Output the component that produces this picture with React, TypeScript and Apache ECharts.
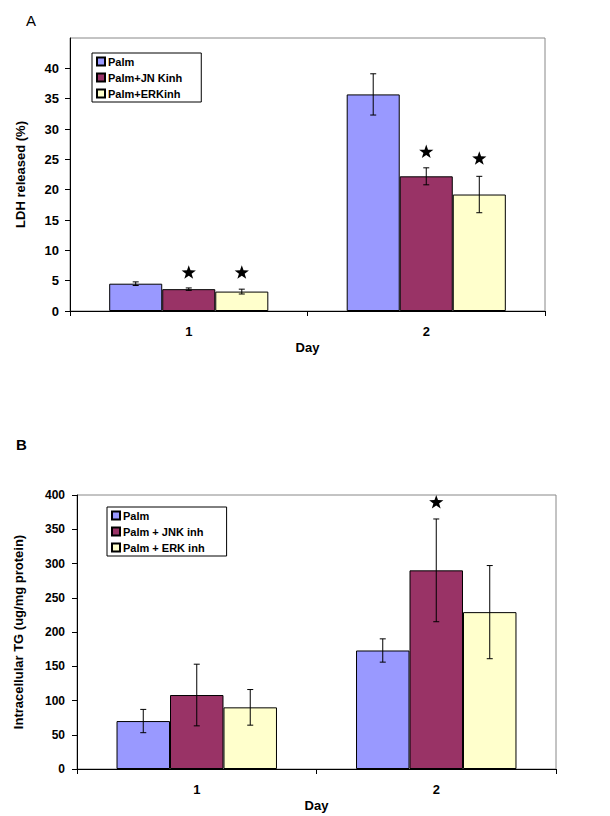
import React, { useEffect, useRef } from "react";
import * as echarts from "echarts";

const days = ["1", "2"];
const namesA = ["Palm", "Palm+JN Kinh", "Palm+ERKinh"];
const namesB = ["Palm", "Palm + JNK inh", "Palm + ERK inh"];
const colors = ["#9999FF", "#993366", "#FFFFCC"];

// Panel A: LDH released (%)
const ldhPalm = [4.5, 35.7];
const ldhJnk = [3.6, 22.2];
const ldhErk = [3.2, 19.2];
const ldhPalmErr = [0.3, 3.4];
const ldhJnkErr = [0.2, 1.4];
const ldhErkErr = [0.4, 3.0];
const ldhStars = [
  [0, 6.3, 1],
  [0, 6.3, 2],
  [1, 26.2, 1],
  [1, 25.1, 2],
];
const ldhTicks = [0, 5, 10, 15, 20, 25, 30, 35, 40];

// Panel B: Intracellular TG (ug/mg protein)
const tgPalm = [70, 173];
const tgJnk = [108, 290];
const tgErk = [90, 229];
const tgPalmErr = [17, 17];
const tgJnkErr = [45, 75];
const tgErkErr = [26, 68];
const tgStars = [[1, 389, 1]];

const GAP = 0.33;
const FONT = "Liberation Sans, Arial, sans-serif";

function errRender(params: any, api: any) {
  const c = api.value(0);
  const m = api.value(1);
  const e = api.value(2);
  const s = api.value(3);
  const band = api.size([1, 0])[0];
  const bw = (band * (1 - GAP)) / 3;
  const x = api.coord([c, m])[0] + (s - 1) * bw;
  const yt = api.coord([c, m + e])[1];
  const yb = api.coord([c, m - e])[1];
  const st = { stroke: "#000", lineWidth: 1 };
  return {
    type: "group",
    children: [
      { type: "line", shape: { x1: x, y1: yt, x2: x, y2: yb }, style: st },
      { type: "line", shape: { x1: x - 3, y1: yt, x2: x + 3, y2: yt }, style: st },
      { type: "line", shape: { x1: x - 3, y1: yb, x2: x + 3, y2: yb }, style: st },
    ],
  };
}

function starRender(params: any, api: any) {
  const c = api.value(0);
  const v = api.value(1);
  const s = api.value(2);
  const band = api.size([1, 0])[0];
  const bw = (band * (1 - GAP)) / 3;
  const p = api.coord([c, v]);
  const cx = p[0] + (s - 1) * bw;
  const cy = p[1];
  const pts: number[][] = [];
  for (let k = 0; k < 10; k++) {
    const a = ((-90 + k * 36) * Math.PI) / 180;
    const r = k % 2 === 0 ? 7.5 : 3;
    pts.push([cx + r * Math.cos(a), cy + r * Math.sin(a)]);
  }
  return { type: "polygon", shape: { points: pts }, style: { fill: "#000" } };
}

function errData(arrs: number[][], errs: number[][]) {
  const out: number[][] = [];
  arrs.forEach((a, s) => a.forEach((v, c) => out.push([c, v, errs[s][c], s])));
  return out;
}

export default function App() {
  const ref = useRef<HTMLDivElement>(null);
  useEffect(() => {
    document.body.style.margin = "0";
    const chart = echarts.init(ref.current!, null, { renderer: "svg" });
    const labelStyle = { fontFamily: FONT, fontWeight: "bold" as const, fontSize: 12, color: "#000" };
    const xAxisCommon = (gi: number) => ({
      type: "category",
      gridIndex: gi,
      data: days,
      name: "Day",
      nameLocation: "middle",
      nameGap: 30,
      nameTextStyle: { ...labelStyle, fontSize: 13 },
      axisLine: { lineStyle: { color: "#000", width: 1 } },
      axisTick: { show: true, length: 5, lineStyle: { color: "#000" } },
      axisLabel: { ...labelStyle, fontSize: 13, margin: 14 },
      splitLine: { show: false },
    });
    const barS = (name: string, data: number[], i: number, ax: number) => ({
      type: "bar",
      name,
      xAxisIndex: ax,
      yAxisIndex: ax,
      data,
      barGap: "0%",
      barCategoryGap: GAP * 100 + "%",
      itemStyle: { color: colors[i], borderColor: "#000", borderWidth: 1 },
    });
    const legendCommon = {
      orient: "vertical",
      icon: "rect",
      itemWidth: 8,
      itemHeight: 8,
      itemGap: 5,
      borderColor: "#000",
      borderWidth: 1,
      backgroundColor: "#fff",
      textStyle: { fontFamily: FONT, fontWeight: "bold", fontSize: 11, color: "#000", padding: [0, 0, 0, -2] },
    };
    chart.setOption({
      animation: false,
      backgroundColor: "#fff",
      title: [
        { text: "A", left: 21, top: 8, textStyle: { fontFamily: FONT, fontWeight: "normal", fontSize: 15, color: "#000" } },
        { text: "B", left: 11, top: 432, textStyle: { fontFamily: FONT, fontWeight: "bold", fontSize: 15, color: "#000" } },
      ],
      grid: [
        { left: 70, top: 38, width: 475, height: 273, show: true, borderColor: "#888", borderWidth: 1, backgroundColor: "transparent" },
        { left: 77, top: 495, width: 479, height: 274, show: true, borderColor: "#888", borderWidth: 1, backgroundColor: "transparent" },
      ],
      legend: [
        { ...legendCommon, data: namesA, left: 92, top: 53, padding: [3, 19, 3, 4] },
        { ...legendCommon, data: namesB, left: 107, top: 507, padding: [3, 22, 3, 4] },
      ],
      xAxis: [xAxisCommon(0), xAxisCommon(1)],
      yAxis: [
        {
          type: "value",
          gridIndex: 0,
          min: 0,
          max: 45,
          interval: 5,
          name: "LDH released (%)",
          nameLocation: "middle",
          nameRotate: 90,
          nameGap: 43,
          nameTextStyle: { ...labelStyle, fontSize: 13 },
          axisLine: { show: true, lineStyle: { color: "#000" } },
          axisTick: { show: true, length: 5, lineStyle: { color: "#000" }, customValues: ldhTicks },
          axisLabel: { ...labelStyle, fontSize: 13, margin: 11, customValues: ldhTicks },
          splitLine: { show: false },
        },
        {
          type: "value",
          gridIndex: 1,
          min: 0,
          max: 400,
          interval: 50,
          name: "Intracellular TG (ug/mg protein)",
          nameLocation: "middle",
          nameRotate: 90,
          nameGap: 52,
          nameTextStyle: { ...labelStyle, fontSize: 13 },
          axisLine: { show: true, lineStyle: { color: "#000" } },
          axisTick: { show: true, length: 5, lineStyle: { color: "#000" } },
          axisLabel: { ...labelStyle, margin: 12 },
          splitLine: { show: false },
        },
      ],
      series: [
        barS(namesA[0], ldhPalm, 0, 0),
        barS(namesA[1], ldhJnk, 1, 0),
        barS(namesA[2], ldhErk, 2, 0),
        barS(namesB[0], tgPalm, 0, 1),
        barS(namesB[1], tgJnk, 1, 1),
        barS(namesB[2], tgErk, 2, 1),
        {
          type: "custom",
          xAxisIndex: 0,
          yAxisIndex: 0,
          renderItem: errRender,
          data: errData([ldhPalm, ldhJnk, ldhErk], [ldhPalmErr, ldhJnkErr, ldhErkErr]),
          z: 5,
        },
        {
          type: "custom",
          xAxisIndex: 1,
          yAxisIndex: 1,
          renderItem: errRender,
          data: errData([tgPalm, tgJnk, tgErk], [tgPalmErr, tgJnkErr, tgErkErr]),
          z: 5,
        },
        { type: "custom", xAxisIndex: 0, yAxisIndex: 0, renderItem: starRender, data: ldhStars, z: 5 },
        { type: "custom", xAxisIndex: 1, yAxisIndex: 1, renderItem: starRender, data: tgStars, z: 5 },
      ],
    });
    return () => chart.dispose();
  }, []);
  return <div ref={ref} style={{ width: 610, height: 816 }} />;
}
